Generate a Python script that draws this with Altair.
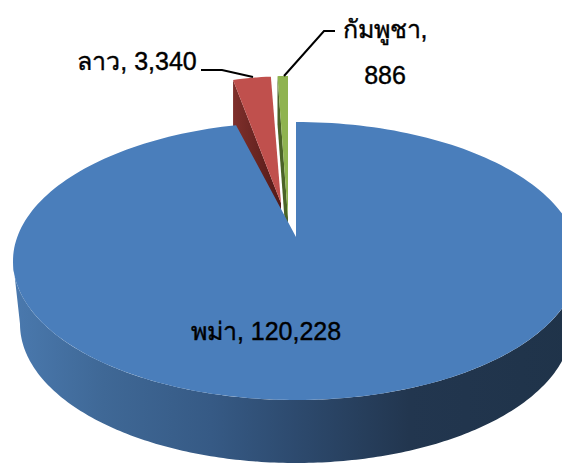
import math
import altair as alt
import pandas as pd

# Data
names = ["พม่า", "ลาว", "กัมพูชา"]
values = [120228, 3340, 886]
top_colors = ["#4a7ebb", "#c0504d", "#8fb350"]

# Drawing geometry, in reference pixels
CX, CY, RX, RY = 296, 261, 283, 139
BLUE_APEX = (296, 237)
DEPTH_CY, DEPTH_RX = 324, 276
EXPLODE = {"ลาว": (281, 203, 0.80, 1.10), "กัมพูชา": (288, 218, 0.83, 1.235)}
WALL = 48

total = sum(values)
cum = 0
spans = {}
for n, v in zip(names, values):
    spans[n] = (cum / total * 2 * math.pi, (cum + v) / total * 2 * math.pi)
    cum += v


def rim(t):
    return CX + RX * math.sin(t), CY - RY * math.cos(t)


def poly(points):
    return pd.DataFrame({"px": [p[0] for p in points], "py": [p[1] for p in points], "i": range(len(points))})


X = alt.X("px:Q", scale=alt.Scale(domain=[8, 562]), axis=None)
Y = alt.Y("py:Q", scale=alt.Scale(domain=[465, 8]), axis=None)


def shape(points, fill):
    return alt.Chart(poly(points)).mark_line(fill=fill, strokeWidth=0, clip=True, interpolate="linear-closed").encode(
        x=X, y=Y, order="i:Q"
    )


def slice_points(name):
    ax, ay, sx, sy = EXPLODE[name]
    a, b = spans[name]
    pts = [(ax, ay)]
    for k in range(9):
        t = a + (b - a) * k / 8
        px, py = rim(t)
        pts.append((ax + sx * (px - BLUE_APEX[0]), ay + sy * (py - BLUE_APEX[1])))
    return pts


def wall_points(name):
    pts = slice_points(name)
    apex, start = pts[0], pts[1]
    return [start, apex, (apex[0], apex[1] + WALL), (start[0], start[1] + WALL)]


a0, b0 = spans["พม่า"]
blue_top = [BLUE_APEX] + [rim(a0 + (b0 - a0) * k / 240) for k in range(241)]
side = [(CX + RX * math.cos(math.pi - math.pi * k / 200), CY + RY * math.sin(math.pi * k / 200)) for k in range(201)]
side += [(CX + DEPTH_RX * math.cos(math.pi * k / 200), DEPTH_CY + RY * math.sin(math.pi * k / 200)) for k in range(201)]

side_fill = alt.Gradient(
    gradient="linear", x1=0, x2=1, y1=0, y2=0,
    stops=[
        alt.GradientStop(color="#4a79ae", offset=0),
        alt.GradientStop(color="#3f6896", offset=0.16),
        alt.GradientStop(color="#365a85", offset=0.35),
        alt.GradientStop(color="#2d4a6e", offset=0.5),
        alt.GradientStop(color="#22364f", offset=0.7),
        alt.GradientStop(color="#1f3349", offset=1),
    ],
)
red_wall_fill = alt.Gradient(
    gradient="linear", x1=0, x2=1, y1=0, y2=0,
    stops=[alt.GradientStop(color="#7f2f2b", offset=0), alt.GradientStop(color="#531a18", offset=1)],
)

layers = [
    shape(wall_points("ลาว"), red_wall_fill),
    shape(wall_points("กัมพูชา"), "#4b6327"),
    shape(slice_points("ลาว"), top_colors[1]),
    shape(slice_points("กัมพูชา"), top_colors[2]),
    shape(side, side_fill),
    shape(blue_top, top_colors[0]),
]

leaders = [
    [(201, 70), (222, 70), (253, 77)],
    [(335, 31), (324, 31), (284, 76)],
]
for pts in leaders:
    layers.append(
        alt.Chart(poly(pts)).mark_line(color="#000000", strokeWidth=2).encode(x=X, y=Y, order="i:Q")
    )

labels = pd.DataFrame(
    {
        "px": [266, 137, 385, 385],
        "py": [332, 62, 30, 76],
        "label": [
            f"{names[0]}, {values[0]:,}",
            f"{names[1]}, {values[1]:,}",
            f"{names[2]},",
            f"{values[2]:,}",
        ],
    }
)
layers.append(
    alt.Chart(labels)
    .mark_text(font="Liberation Sans", fontSize=25, color="#000000", stroke="#000000", strokeWidth=0.4,
               baseline="middle", align="center")
    .encode(x=X, y=Y, text="label:N")
)

chart = (
    alt.layer(*layers)
    .properties(width=554, height=457, padding=0, autosize=alt.AutoSizeParams(type="none"))
    .configure_view(stroke=None)
)
chart.save("out.html", embed_options={"renderer": "svg", "actions": False})
